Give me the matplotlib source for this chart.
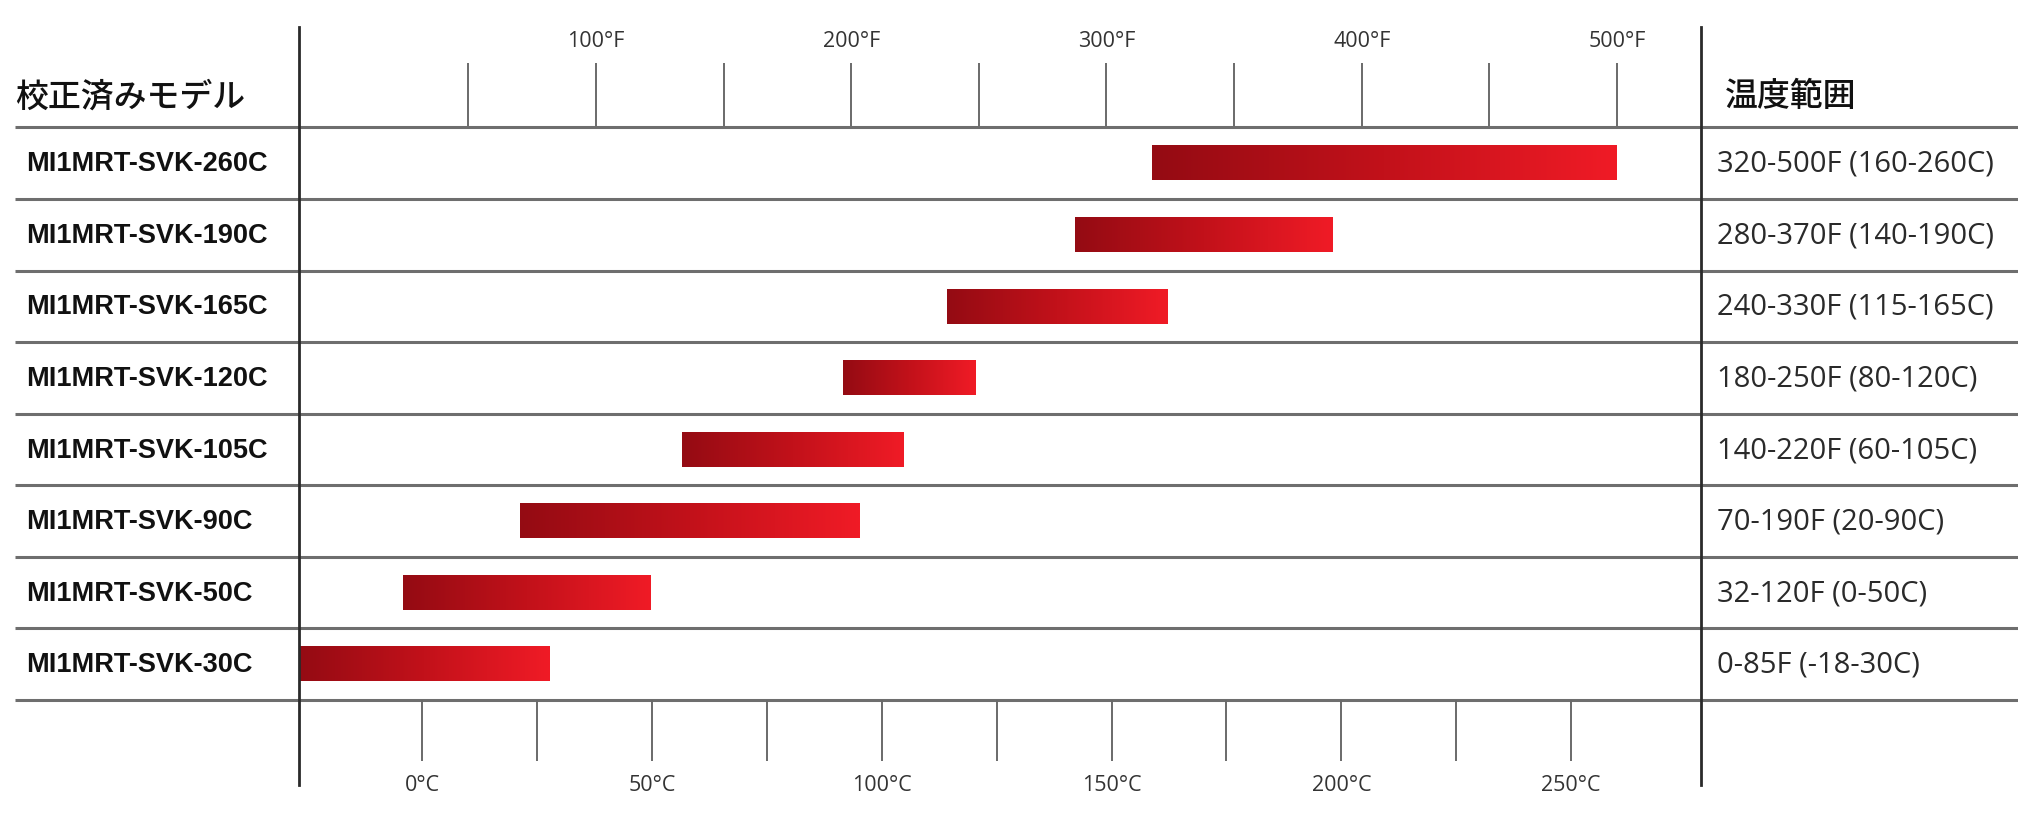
import numpy as np
import matplotlib.pyplot as plt
from matplotlib.transforms import blended_transform_factory
from matplotlib.colors import LinearSegmentedColormap

# 校正済みモデル, top to bottom
models = ["MI1MRT-SVK-260C", "MI1MRT-SVK-190C", "MI1MRT-SVK-165C", "MI1MRT-SVK-120C",
          "MI1MRT-SVK-105C", "MI1MRT-SVK-90C", "MI1MRT-SVK-50C", "MI1MRT-SVK-30C"]
ranges = ["320-500F (160-260C)", "280-370F (140-190C)", "240-330F (115-165C)", "180-250F (80-120C)",
          "140-220F (60-105C)", "70-190F (20-90C)", "32-120F (0-50C)", "0-85F (-18-30C)"]
# bar ends in deg C, as drawn in the picture
bar_start = [158.7, 142.0, 114.2, 91.5, 56.6, 21.3, -4.2, -26.9]
bar_end = [259.8, 198.0, 162.1, 120.4, 104.7, 95.2, 49.6, 27.7]

c_major = [0, 50, 100, 150, 200, 250]
c_minor = [25, 75, 125, 175, 225]
f_major = [100, 200, 300, 400, 500]
f_minor = [50, 150, 250, 350, 450]

x_lo, x_hi = -26.9, 278.3
n = len(models)

plt.rcParams['font.family'] = ['Open Sans', 'DejaVu Sans']

fig = plt.figure(figsize=(20.18, 8.2), dpi=100)
ax = fig.add_axes([0.148, 0.1451, 0.843 - 0.148, 0.8433 - 0.1451])
for s in ax.spines.values():
    s.set_visible(False)

# gradient bars
grad = np.linspace(0, 1, 256).reshape(1, -1)
cmap = LinearSegmentedColormap.from_list("redbar", ["#940b13", "#c2111a", "#f01b26"])
h = 0.48
for i in range(n):
    ax.imshow(grad, cmap=cmap, aspect='auto', interpolation='bilinear',
              extent=(bar_start[i], bar_end[i], i + 0.5 + h / 2, i + 0.5 - h / 2), zorder=2)
ax.set_xlim(x_lo, x_hi)
ax.set_ylim(n, 0)

# row lines across the whole width
tr = blended_transform_factory(fig.transFigure, ax.transData)
ax.hlines(np.arange(n + 1), 0.0075, 1.0, transform=tr, colors="#6e6e6e", lw=2.2, clip_on=False, zorder=1)

# vertical frame lines
for xv in (x_lo, x_hi):
    ax.axvline(xv, ymin=-0.149, ymax=1.176, color="#2a2a2a", lw=2, clip_on=False, zorder=3)

# bottom Celsius axis
ax.set_xticks(c_major)
ax.set_xticks(c_minor, minor=True)
ax.set_xticklabels([f"{v}°C" for v in c_major])
ax.set_yticks([])
ax.tick_params(axis='x', which='both', direction='out', length=44, width=1.4, color="#6a6a6a",
               pad=9, labelsize=15.5, labelcolor="#333333")

# top Fahrenheit axis
top = ax.secondary_xaxis('top', functions=(lambda c: c * 1.8 + 32, lambda f: (f - 32) / 1.8))
top.set_xticks(f_major)
top.set_xticks(f_minor, minor=True)
top.set_xticklabels([f"{v}°F" for v in f_major])
top.tick_params(axis='x', which='both', direction='out', length=46, width=1.4, color="#6a6a6a",
                pad=9, labelsize=15.5, labelcolor="#333333")
for s in top.spines.values():
    s.set_visible(False)

# row labels
for i in range(n):
    y = i + 0.5
    ax.text(0.0128, y, models[i], transform=tr, va='center', ha='left', fontsize=19.5,
            fontweight='bold', family=['Liberation Sans', 'DejaVu Sans'], color="#111111")
    ax.text(0.851, y, ranges[i], transform=tr, va='center', ha='left', fontsize=21,
            color="#2a2a2a")

# headers
fig.text(0.0077, 0.882, "校正済みモデル", va='center', ha='left', fontsize=23.7, fontweight='medium',
         family=['Noto Sans CJK JP', 'DejaVu Sans'], color="#111111")
fig.text(0.8546, 0.882, "温度範囲", va='center', ha='left', fontsize=23.7, fontweight='medium',
         family=['Noto Sans CJK JP', 'DejaVu Sans'], color="#111111")

fig.savefig("out.png", dpi=100, facecolor="white")
